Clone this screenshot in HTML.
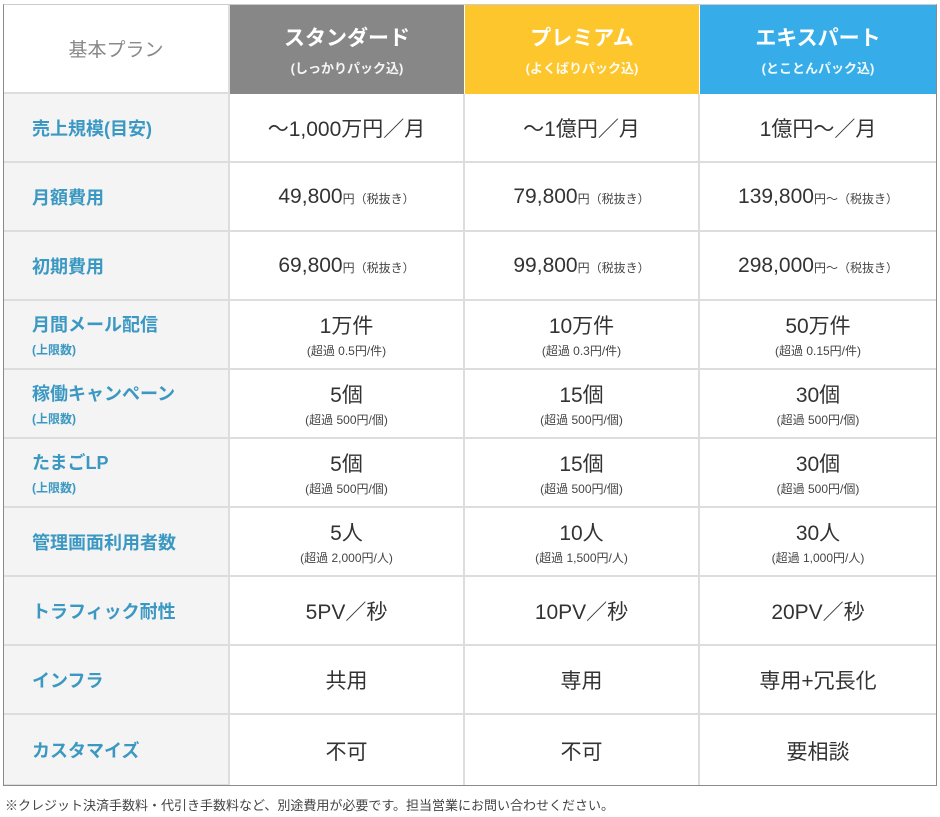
<!DOCTYPE html>
<html><head><meta charset="utf-8"><style>
*{margin:0;padding:0;box-sizing:border-box}
body{width:940px;height:817px;background:#fff;position:relative;overflow:hidden;font-family:"Liberation Sans","Noto Sans CJK JP",sans-serif;color:#333}
.c{position:absolute;display:flex;flex-direction:column;align-items:center;justify-content:center;text-align:center;border-right:2px solid #ddd;border-bottom:2px solid #ddd}
.l{background:#f4f4f4;align-items:flex-start;padding-left:28px;color:#3b98c2;font-weight:bold;font-size:18px}
.l small{font-size:12px;margin-top:4px;color:#3b98c2}
.v{font-size:21px;color:#333}
.v small{font-size:12px;color:#444;margin-top:2px}
.v .u{font-size:12px;color:#444}
.h{color:#fff;font-weight:bold;font-size:21px;border-right:none;border-bottom:none}
.h small{font-size:13px;margin-top:6px;opacity:.92}
#frame{position:absolute;left:3px;top:4px;width:934px;height:782px;border:1px solid #8a8a8a;border-top:1px solid #ccc}
.foot{position:absolute;left:5px;top:795px;font-size:13px;color:#444}
</style></head><body>
<div class="c" style="left:4px;top:5px;width:226px;height:89px;color:#888;font-size:19px;border-bottom:2px solid #ddd">基本プラン</div>
<div class="c h" style="left:230px;top:5px;width:234px;height:89px;background:#878787">スタンダード<small>(しっかりパック込)</small></div>
<div class="c h" style="left:465px;top:5px;width:234px;height:89px;background:#fcc62c">プレミアム<small>(よくばりパック込)</small></div>
<div class="c h" style="left:700px;top:5px;width:236px;height:89px;background:#36ade8">エキスパート<small>(とことんパック込)</small></div>

<div id="rows"></div>
<script>
var rows=[
["売上規模(目安)","","～1,000万円／月","～1億円／月","1億円～／月"],
["月額費用","","49,800<span class=u>円（税抜き）</span>","79,800<span class=u>円（税抜き）</span>","139,800<span class=u>円～（税抜き）</span>"],
["初期費用","","69,800<span class=u>円（税抜き）</span>","99,800<span class=u>円（税抜き）</span>","298,000<span class=u>円～（税抜き）</span>"],
["月間メール配信","(上限数)","1万件<small>(超過 0.5円/件)</small>","10万件<small>(超過 0.3円/件)</small>","50万件<small>(超過 0.15円/件)</small>"],
["稼働キャンペーン","(上限数)","5個<small>(超過 500円/個)</small>","15個<small>(超過 500円/個)</small>","30個<small>(超過 500円/個)</small>"],
["たまごLP","(上限数)","5個<small>(超過 500円/個)</small>","15個<small>(超過 500円/個)</small>","30個<small>(超過 500円/個)</small>"],
["管理画面利用者数","","5人<small>(超過 2,000円/人)</small>","10人<small>(超過 1,500円/人)</small>","30人<small>(超過 1,000円/人)</small>"],
["トラフィック耐性","","5PV／秒","10PV／秒","20PV／秒"],
["インフラ","","共用","専用","専用+冗長化"],
["カスタマイズ","","不可","不可","要相談"]];
var xs=[[4,226],[230,235],[465,235],[700,236]],h="";
function fmt(s){var k=s.indexOf('<small>');if(k<0)return '<div>'+s+'</div>';return '<div>'+s.slice(0,k)+'</div>'+s.slice(k);}
rows.forEach(function(r,i){var t=94+i*69;var hh=i==9?71:69;
h+='<div class="c l" style="left:4px;top:'+t+'px;width:226px;height:'+hh+'px">'+r[0]+(r[1]?'<small>'+r[1]+'</small>':'')+'</div>';
for(var j=1;j<4;j++)h+='<div class="c v" style="left:'+xs[j][0]+'px;top:'+t+'px;width:'+xs[j][1]+'px;height:'+hh+'px;'+(j==3?'border-right:none;':'')+(i==9?'border-bottom:none;':'')+'">'+fmt(r[j+1])+'</div>';});
document.getElementById('rows').innerHTML=h;
</script>
<div id="frame"></div>
<div class="foot">※クレジット決済手数料・代引き手数料など、別途費用が必要です。担当営業にお問い合わせください。</div>
</body></html>
